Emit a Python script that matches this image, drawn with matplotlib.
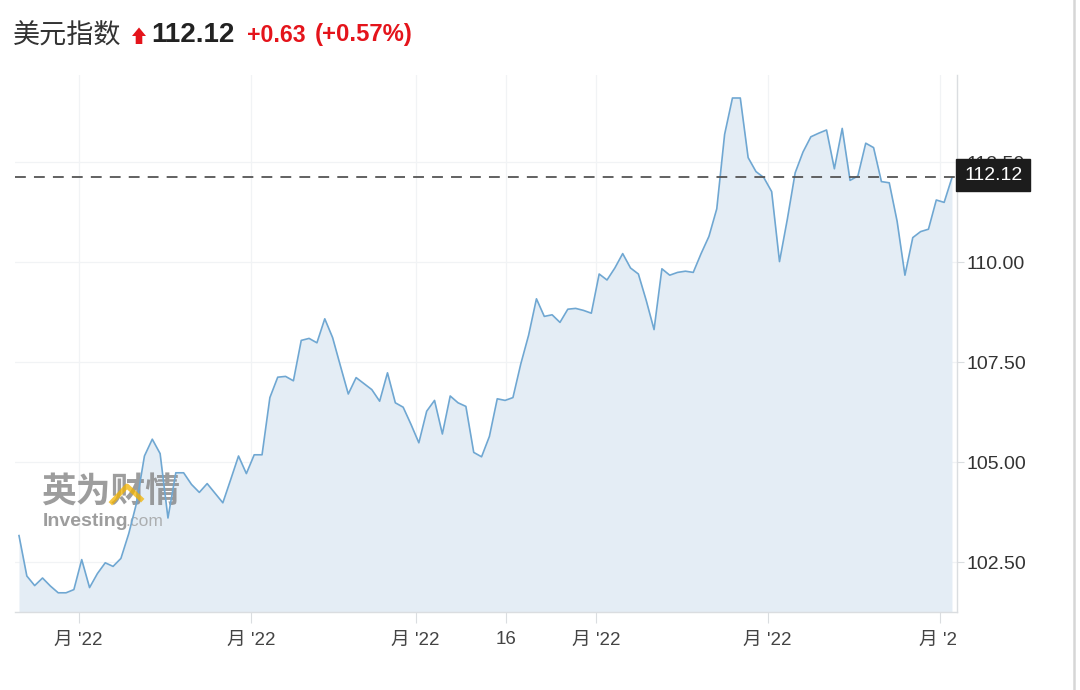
import matplotlib
matplotlib.use("Agg")
import matplotlib.pyplot as plt
from matplotlib.patches import Polygon
from matplotlib.lines import Line2D

plt.rcParams['font.family'] = ['Liberation Sans', 'Noto Sans CJK SC', 'DejaVu Sans']

# 美元指数 每日收盘
valores = [103.16, 102.15, 101.91, 102.10, 101.90, 101.73, 101.73, 101.81, 102.56, 101.86,
           102.21, 102.48, 102.39, 102.59, 103.21, 103.98, 105.15, 105.57, 105.21, 103.60,
           104.73, 104.73, 104.44, 104.24, 104.46, 104.22, 103.98, 104.56, 105.15, 104.71,
           105.18, 105.18, 106.61, 107.12, 107.14, 107.03, 108.04, 108.09, 107.98, 108.58,
           108.11, 107.40, 106.70, 107.11, 106.96, 106.81, 106.52, 107.23, 106.48, 106.37,
           105.94, 105.48, 106.27, 106.54, 105.70, 106.65, 106.48, 106.39, 105.24, 105.13,
           105.64, 106.58, 106.54, 106.61, 107.45, 108.17, 109.08,
           108.64, 108.68, 108.49, 108.82, 108.84, 108.79, 108.72, 109.70, 109.55, 109.85,
           110.21, 109.85, 109.70, 109.04, 108.31, 109.83, 109.67, 109.74, 109.77, 109.74,
           110.21, 110.64, 111.33, 113.19, 114.10, 114.10, 112.61, 112.26, 112.11, 111.76,
           110.01, 111.07, 112.23, 112.75, 113.13, 113.22, 113.30, 112.33, 113.34, 112.04,
           112.15, 112.97, 112.86, 112.01, 111.98, 111.02, 109.67, 110.61, 110.76, 110.82,
           111.55, 111.49, 112.11]
dias = list(range(len(valores)))

ultimo = 112.12
pos_meses = [7.6, 29.6, 50.6, 62.1, 73.6, 95.5, 117.5]
etiquetas_meses = ["月 '22", "月 '22", "月 '22", "16", "月 '22", "月 '22", "月 '2 "]
marcas_y = [102.5, 105.0, 107.5, 110.0, 112.5]

azul = '#6fa7d2'
relleno = '#e4edf5'
gris = '#dadde0'

fig = plt.figure(figsize=(10.8, 6.9), dpi=100)
ax = fig.add_axes([15 / 1080, 1 - 612 / 690, 942 / 1080, 537 / 690])

ax.fill_between(dias, valores, 100, color=relleno, lw=0, zorder=1)
ax.plot(dias, valores, color=azul, lw=1.2, zorder=3)
ax.axhline(ultimo, color='#555555', lw=1.3, dashes=(6, 4.5), zorder=4)

ax.set_xlim(-0.51, 119.64)
ax.set_ylim(101.25, 114.675)

ax.set_xticks(pos_meses)
ax.set_xticklabels(etiquetas_meses)
ax.set_yticks(marcas_y)
ax.set_yticklabels(['%.2f' % v for v in marcas_y])
ax.yaxis.tick_right()
ax.tick_params(axis='y', length=5, width=0.8, color=gris, pad=1.5, labelsize=14, labelcolor='#333333')
ax.tick_params(axis='x', length=8, width=0.8, color=gris, pad=6, labelsize=13.5, labelcolor='#444444')
ax.grid(True, color='#f1f3f5', lw=0.9, zorder=0)
ax.set_axisbelow(True)

for lado in ['top', 'left']:
    ax.spines[lado].set_visible(False)
for lado in ['right', 'bottom']:
    ax.spines[lado].set_color(gris)
    ax.spines[lado].set_linewidth(1.0)

# etiqueta del ultimo precio
ax.annotate('%.2f' % ultimo, xy=(1.0, ultimo), xycoords=('axes fraction', 'data'),
            xytext=(7, 2), textcoords='offset pixels', ha='left', va='center',
            fontsize=14, color='white', zorder=10, annotation_clip=False,
            bbox=dict(boxstyle='square,pad=0.4', fc='#1c1c1c', ec='#1c1c1c'))

# marca de agua
ax.text(0.028, 0.205, '英为财情', transform=ax.transAxes, fontsize=25, fontweight='bold',
        color='#7d7d7d', alpha=0.75, zorder=2, family=['Noto Sans CJK SC'])
ax.text(0.029, 0.16, 'Investing', transform=ax.transAxes, fontsize=14, fontweight='bold',
        color='#7d7d7d', alpha=0.75, zorder=2)
ax.text(0.1175, 0.16, '.com', transform=ax.transAxes, fontsize=12.5, color='#9a9a9a',
        alpha=0.75, zorder=2)
fig.add_artist(Line2D([112 / 1080, 127 / 1080, 141 / 1080],
                      [1 - 502 / 690, 1 - 486 / 690, 1 - 499 / 690],
                      transform=fig.transFigure, color='#f4b400', lw=3.5, alpha=0.75))

# titulo
fig.text(13 / 1080, 1 - 36 / 690, '美元指数', fontsize=19.5, color='#333333', va='center',
         family=['Noto Sans CJK SC'])
flecha = [(132, 36), (139, 27.5), (146, 36), (142.3, 36), (142.3, 44), (135.7, 44), (135.7, 36)]
fig.add_artist(Polygon([(x / 1080, 1 - y / 690) for x, y in flecha], closed=True,
                       transform=fig.transFigure, fc='#e4141b', ec='none'))
fig.text(151 / 1080, 1 - 35 / 690, '112.12', fontsize=20, fontweight='bold', color='#222222', va='center')
fig.text(247 / 1080, 1 - 35 / 690, '+0.63', fontsize=16.7, fontweight='bold', color='#e4141b', va='center')
fig.text(315 / 1080, 1 - 35 / 690, '(+0.57%)', fontsize=17.2, fontweight='bold', color='#e4141b', va='center')

# borde derecho
fig.add_artist(Line2D([1074 / 1080, 1074 / 1080], [0, 1], transform=fig.transFigure,
                      color='#d6d6d6', lw=1.8))

plt.savefig('out.png', dpi=100)
